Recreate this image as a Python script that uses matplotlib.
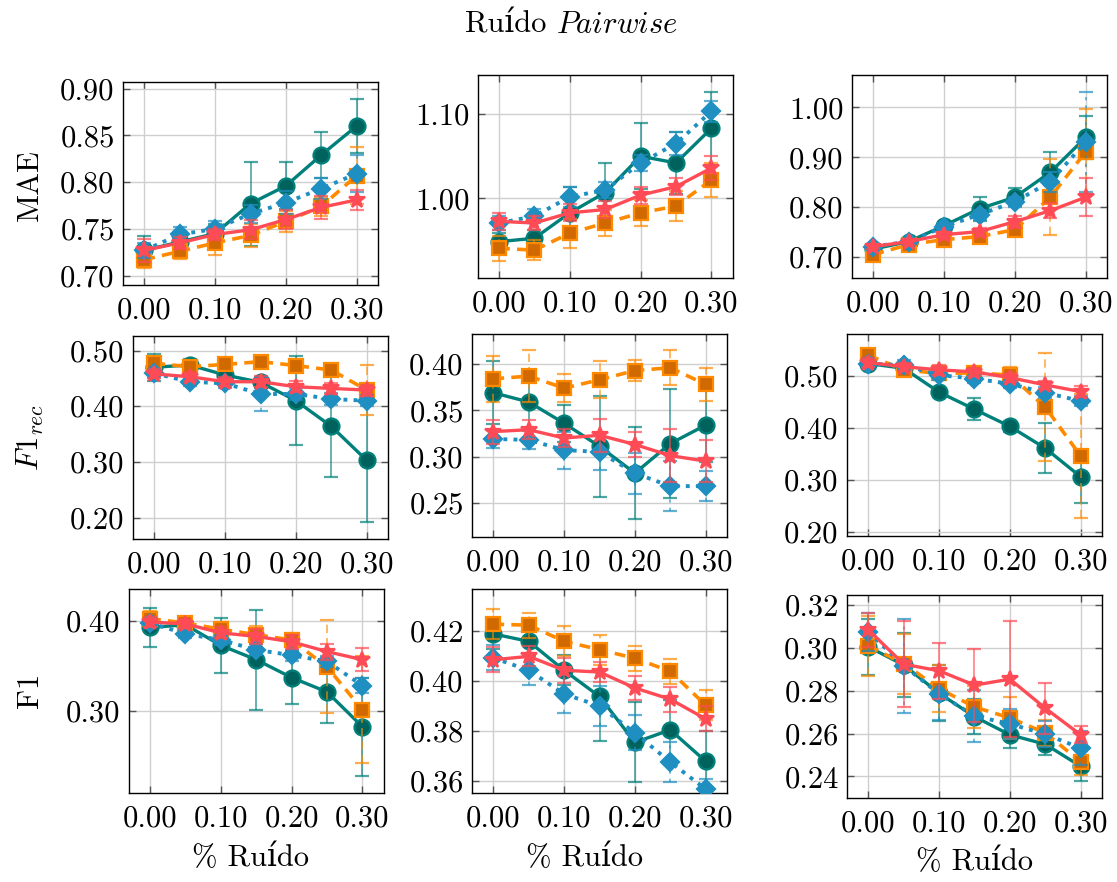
import numpy as np
import matplotlib
matplotlib.use('Agg')
from matplotlib import pyplot as plt
from matplotlib.ticker import FormatStrFormatter

plt.rcParams['font.family'] = ['cmr10', 'DejaVu Serif']
plt.rcParams['mathtext.fontset'] = 'cm'
plt.rcParams['axes.unicode_minus'] = False
plt.rcParams['axes.formatter.use_mathtext'] = True

noise = [0.00, 0.05, 0.10, 0.15, 0.20, 0.25, 0.30]

# every panel holds four series in this order: teal, orange, blue, red
mae_1 = [[0.727, 0.736, 0.745, 0.777, 0.796, 0.829, 0.860],
         [0.717, 0.726, 0.735, 0.743, 0.758, 0.774, 0.807],
         [0.727, 0.744, 0.750, 0.766, 0.778, 0.793, 0.809],
         [0.727, 0.735, 0.744, 0.749, 0.760, 0.773, 0.781]]
mae_1_err = [[0.015, 0.008, 0.010, 0.045, 0.025, 0.025, 0.029],
             [0.009, 0.008, 0.013, 0.012, 0.011, 0.010, 0.030],
             [0.008, 0.008, 0.008, 0.010, 0.012, 0.011, 0.020],
             [0.012, 0.006, 0.006, 0.010, 0.010, 0.012, 0.011]]

mae_2 = [[0.949, 0.953, 0.983, 1.007, 1.050, 1.042, 1.083],
         [0.941, 0.939, 0.959, 0.971, 0.983, 0.991, 1.022],
         [0.971, 0.979, 1.002, 1.010, 1.042, 1.065, 1.103],
         [0.973, 0.971, 0.983, 0.987, 1.004, 1.014, 1.036]]
mae_2_err = [[0.010, 0.010, 0.030, 0.035, 0.039, 0.037, 0.043],
             [0.015, 0.012, 0.017, 0.015, 0.015, 0.018, 0.020],
             [0.008, 0.008, 0.012, 0.010, 0.010, 0.014, 0.012],
             [0.010, 0.008, 0.010, 0.010, 0.010, 0.010, 0.014]]

mae_3 = [[0.716, 0.731, 0.763, 0.797, 0.820, 0.870, 0.940],
         [0.705, 0.725, 0.735, 0.741, 0.755, 0.820, 0.911],
         [0.721, 0.731, 0.761, 0.785, 0.811, 0.851, 0.931],
         [0.721, 0.731, 0.745, 0.751, 0.771, 0.793, 0.820]]
mae_3_err = [[0.006, 0.008, 0.008, 0.024, 0.018, 0.040, 0.043],
             [0.006, 0.008, 0.008, 0.008, 0.010, 0.076, 0.085],
             [0.006, 0.006, 0.008, 0.010, 0.010, 0.020, 0.100],
             [0.005, 0.006, 0.006, 0.008, 0.012, 0.015, 0.038]]

f1rec_1 = [[0.470, 0.474, 0.456, 0.443, 0.410, 0.364, 0.303],
           [0.477, 0.471, 0.475, 0.480, 0.473, 0.465, 0.429],
           [0.459, 0.444, 0.441, 0.422, 0.422, 0.413, 0.410],
           [0.458, 0.453, 0.444, 0.444, 0.435, 0.432, 0.429]]
f1rec_1_err = [[0.024, 0.010, 0.010, 0.010, 0.080, 0.090, 0.111],
               [0.010, 0.010, 0.010, 0.008, 0.010, 0.010, 0.045],
               [0.008, 0.008, 0.008, 0.030, 0.010, 0.010, 0.010],
               [0.008, 0.008, 0.008, 0.010, 0.010, 0.010, 0.010]]

f1rec_2 = [[0.369, 0.359, 0.336, 0.311, 0.282, 0.314, 0.334],
           [0.384, 0.387, 0.374, 0.383, 0.393, 0.396, 0.378],
           [0.319, 0.318, 0.307, 0.305, 0.282, 0.268, 0.268],
           [0.327, 0.329, 0.320, 0.323, 0.313, 0.301, 0.295]]
f1rec_2_err = [[0.034, 0.030, 0.020, 0.055, 0.050, 0.059, 0.040],
               [0.025, 0.028, 0.015, 0.020, 0.011, 0.019, 0.018],
               [0.010, 0.010, 0.020, 0.020, 0.022, 0.027, 0.016],
               [0.013, 0.010, 0.010, 0.018, 0.013, 0.029, 0.023]]

f1rec_3 = [[0.524, 0.515, 0.469, 0.436, 0.403, 0.361, 0.306],
           [0.540, 0.512, 0.505, 0.506, 0.502, 0.440, 0.346],
           [0.524, 0.521, 0.502, 0.495, 0.485, 0.468, 0.452],
           [0.526, 0.518, 0.512, 0.508, 0.497, 0.483, 0.470]]
f1rec_3_err = [[0.010, 0.010, 0.010, 0.021, 0.010, 0.048, 0.050],
               [0.008, 0.010, 0.010, 0.010, 0.015, 0.104, 0.120],
               [0.010, 0.010, 0.010, 0.008, 0.008, 0.010, 0.010],
               [0.008, 0.008, 0.010, 0.008, 0.008, 0.008, 0.010]]

f1_1 = [[0.393, 0.396, 0.373, 0.357, 0.337, 0.321, 0.282],
        [0.403, 0.398, 0.391, 0.385, 0.379, 0.349, 0.301],
        [0.398, 0.386, 0.379, 0.368, 0.362, 0.355, 0.328],
        [0.399, 0.397, 0.387, 0.383, 0.377, 0.366, 0.357]]
f1_1_err = [[0.022, 0.008, 0.031, 0.056, 0.030, 0.035, 0.055],
            [0.008, 0.006, 0.008, 0.010, 0.008, 0.052, 0.060],
            [0.006, 0.005, 0.006, 0.006, 0.006, 0.006, 0.008],
            [0.006, 0.005, 0.006, 0.008, 0.008, 0.009, 0.013]]

f1_2 = [[0.4188, 0.4158, 0.4042, 0.3937, 0.3753, 0.3803, 0.3677],
        [0.4227, 0.4223, 0.4158, 0.4125, 0.4090, 0.4038, 0.3902],
        [0.4092, 0.4042, 0.3947, 0.3899, 0.3791, 0.3674, 0.3565],
        [0.4084, 0.4098, 0.4042, 0.4035, 0.3971, 0.3926, 0.3847]]
f1_2_err = [[0.006, 0.006, 0.006, 0.018, 0.016, 0.012, 0.012],
            [0.006, 0.005, 0.006, 0.006, 0.005, 0.005, 0.006],
            [0.005, 0.006, 0.0075, 0.008, 0.007, 0.008, 0.004],
            [0.005, 0.004, 0.005, 0.004, 0.005, 0.005, 0.005]]

f1_3 = [[0.3005, 0.2920, 0.2788, 0.2679, 0.2594, 0.2550, 0.2447],
        [0.3009, 0.2927, 0.2810, 0.2724, 0.2673, 0.2603, 0.2468],
        [0.3075, 0.2917, 0.2785, 0.2682, 0.2645, 0.2597, 0.2532],
        [0.3085, 0.2924, 0.2893, 0.2826, 0.2854, 0.2718, 0.2594]]
f1_3_err = [[0.013, 0.015, 0.013, 0.008, 0.006, 0.005, 0.007],
            [0.014, 0.014, 0.011, 0.010, 0.010, 0.006, 0.006],
            [0.009, 0.022, 0.012, 0.012, 0.007, 0.006, 0.008],
            [0.008, 0.020, 0.013, 0.017, 0.027, 0.012, 0.004]]

row_labels = ['MAE', r'$F1_{rec}$', 'F1']
x_label = '% Ruído'

styles = [
    dict(color='#00807a', face='#00625c', ls='-', bar_ls='-', marker='o', ms=11.5, lw=2.4),
    dict(color='#ff8a00', face='#d06a00', ls=(0, (3, 2)), bar_ls=(0, (5, 3)), marker='s', ms=10, lw=2.6),
    dict(color='#1f8fc2', face='#1f8fc2', ls=(0, (1, 1.6)), bar_ls=(0, (2, 3)), marker='D', ms=9, lw=2.8),
    dict(color='#ff4b55', face='#ff4b55', ls='-', bar_ls='-', marker='*', ms=12, lw=2.4),
]

# pixel layout: (x of 0.00, top, bottom), y limits, y ticks
panels = [
    (mae_1, mae_1_err, (144.3, 82, 285), (0.690, 0.907), [0.70, 0.75, 0.80, 0.85, 0.90]),
    (mae_2, mae_2_err, (499.0, 75, 278), (0.906, 1.146), [1.00, 1.10]),
    (mae_3, mae_3_err, (873.3, 75, 278), (0.658, 1.065), [0.70, 0.80, 0.90, 1.00]),
    (f1rec_1, f1rec_1_err, (154.3, 336, 539), (0.162, 0.526), [0.20, 0.30, 0.40, 0.50]),
    (f1rec_2, f1rec_2_err, (493.3, 334, 537), (0.213, 0.4325), [0.25, 0.30, 0.35, 0.40]),
    (f1rec_3, f1rec_3_err, (868.3, 334, 536), (0.192, 0.581), [0.20, 0.30, 0.40, 0.50]),
    (f1_1, f1_1_err, (150.0, 589, 793), (0.208, 0.436), [0.30, 0.40]),
    (f1_2, f1_2_err, (493.3, 589, 793), (0.355, 0.4368), [0.36, 0.38, 0.40, 0.42]),
    (f1_3, f1_3_err, (868.3, 595, 798), (0.2299, 0.3247), [0.24, 0.26, 0.28, 0.30, 0.32]),
]

W, H = 1117, 882
XLIM = (-0.03, 0.33)
PX_PER_UNIT = 708.0

fig = plt.figure(figsize=(W / 100, H / 100), dpi=100)

for means, errs, (x0, top, bottom), ylim, yticks in panels:
    left = x0 + XLIM[0] * PX_PER_UNIT
    width = (XLIM[1] - XLIM[0]) * PX_PER_UNIT
    ax = fig.add_axes([left / W, 1 - bottom / H, width / W, (bottom - top) / H])
    for k, (m, e) in enumerate(zip(means, errs)):
        st = styles[k]
        eb = ax.errorbar(noise, m, yerr=e, color=st['color'], ls=st['ls'], lw=st['lw'],
                         marker=st['marker'], ms=st['ms'], mfc=st['face'], mec=st['color'],
                         mew=1.6, ecolor=st['color'], elinewidth=1.2, capsize=5,
                         capthick=1.2, zorder=3 + k)
        eb.lines[2][0].set_linestyle(st['bar_ls'])
        eb.lines[2][0].set_alpha(0.7)
        for cap in eb.lines[1]:
            cap.set_alpha(0.7)
    ax.set_xlim(*XLIM)
    ax.set_ylim(*ylim)
    ax.set_xticks([0.0, 0.1, 0.2, 0.3])
    ax.set_yticks(yticks)
    ax.xaxis.set_major_formatter(FormatStrFormatter('%.2f'))
    ax.yaxis.set_major_formatter(FormatStrFormatter('%.2f'))
    ax.grid(True, color='#cfcfcf', lw=1.0)
    ax.set_axisbelow(True)
    ax.tick_params(direction='in', length=5, width=1, color='#555555',
                   top=True, right=True, labelsize=22)
    ax.tick_params(axis='x', pad=9)
    ax.tick_params(axis='y', pad=6)
    for sp in ax.spines.values():
        sp.set_linewidth(1.0)

# title: plain word plus an italic word
fig.text(546 / W, 1 - 25 / H, 'Ruído', ha='right', va='center', fontsize=22)
fig.text(556 / W, 1 - 25 / H, r'$\mathit{Pairwise}$', ha='left', va='center', fontsize=22)

for label, y in zip(row_labels, [185, 437, 690]):
    fig.text(30 / W, 1 - y / H, label, rotation=90, ha='center', va='center', fontsize=22)

for x, y in [(250, 858), (585, 858), (975, 862)]:
    fig.text(x / W, 1 - y / H, x_label, ha='center', va='center', fontsize=22)

fig.savefig('out.png', dpi=100)
